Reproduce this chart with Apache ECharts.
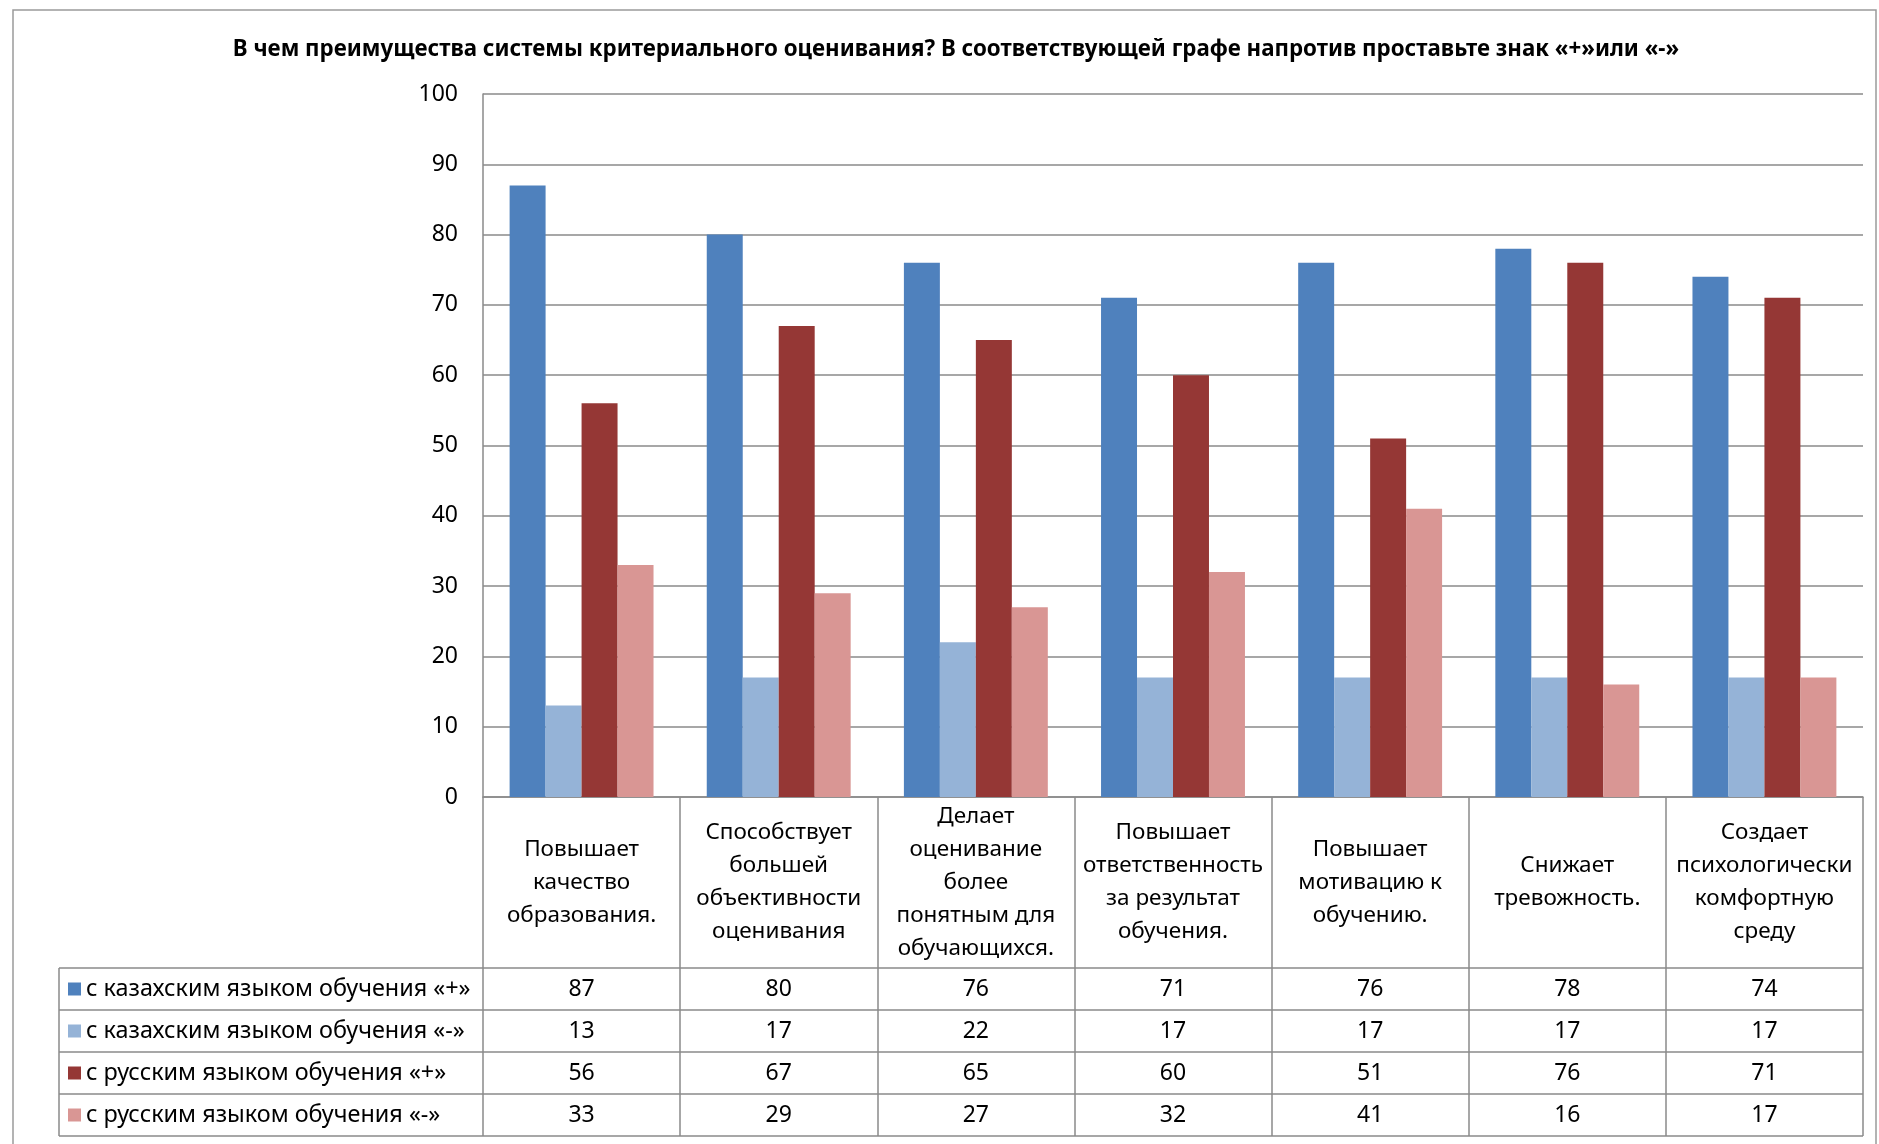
<!DOCTYPE html>
<html>
<head>
<meta charset="utf-8">
<script src="https://cdn.jsdelivr.net/npm/echarts@6/dist/echarts.min.js"></script>
<style>
html, body { margin: 0; padding: 0; background: #fff; }
#chart { width: 1879px; height: 1144px; }
</style>
</head>
<body>
<div id="chart"></div>
<script>
// data
var titleText = 'В чем преимущества системы критериального оценивания? В соответствующей графе напротив проставьте знак «+»или «-»';
var categories = [
    'Повышает\nкачество\nобразования.',
    'Способствует\nбольшей\nобъективности\nоценивания',
    'Делает\nоценивание\nболее\nпонятным для\nобучающихся.',
    'Повышает\nответственность\nза результат\nобучения.',
    'Повышает\nмотивацию к\nобучению.',
    'Снижает\nтревожность.',
    'Создает\nпсихологически\nкомфортную\nсреду'
];
var seriesNames = [
    'с казахским языком обучения «+»',
    'с казахским языком обучения «-»',
    'с русским языком обучения «+»',
    'с русским языком обучения «-»'
];
var kazPlus = [87, 80, 76, 71, 76, 78, 74];
var kazMinus = [13, 17, 22, 17, 17, 17, 17];
var rusPlus = [56, 67, 65, 60, 51, 76, 71];
var rusMinus = [33, 29, 27, 32, 41, 16, 17];
var colors = ['#4F81BD', '#95B3D7', '#953735', '#D99694'];

var rows = [kazPlus, kazMinus, rusPlus, rusMinus];

// layout
var font = 'Noto Sans';
var lineColor = '#8a8a8a';
var plotLeft = 483, plotTop = 94, plotRight = 1863, plotBottom = 797;
var headerBottom = 968, rowH = 42;
var tableLeft = 59;

window.onload = function() {
    var emChart = document.getElementById('chart');
    var chart = echarts.init(emChart);

    var rowLines = [];
    for (var r = 0; r <= rows.length; r++) {
        var y = headerBottom + r * rowH;
        rowLines.push({
            type: 'line', silent: true,
            shape: { x1: tableLeft, y1: y, x2: plotRight, y2: y },
            style: { stroke: lineColor, lineWidth: 1.5 }
        });
    }
    rowLines.push({
        type: 'line', silent: true,
        shape: { x1: tableLeft, y1: headerBottom, x2: tableLeft, y2: headerBottom + rows.length * rowH },
        style: { stroke: lineColor, lineWidth: 1.5 }
    });
    rowLines.push({
        type: 'rect', silent: true,
        shape: { x: 13, y: 10, width: 1863, height: 1300 },
        style: { fill: 'none', stroke: '#9a9a9a', lineWidth: 1.5 }
    });

    var xAxes = [{
        type: 'category',
        data: categories,
        gridIndex: 0,
        position: 'bottom',
        axisLine: { lineStyle: { color: lineColor, width: 1.5 } },
        axisTick: { show: true, length: headerBottom + rows.length * rowH - plotBottom, lineStyle: { color: lineColor, width: 1.5 } },
        axisLabel: {
            interval: 0, margin: (headerBottom - plotBottom) / 2,
            verticalAlign: 'middle', align: 'center',
            fontFamily: font, fontSize: 22.5, lineHeight: 33, color: '#000'
        },
        splitLine: { show: false }
    }];
    rows.forEach(function(vals, k) {
        xAxes.push({
            type: 'category',
            data: categories,
            gridIndex: 0,
            position: 'bottom',
            offset: headerBottom + k * rowH + rowH / 2 - plotBottom,
            axisLine: { show: false },
            axisTick: { show: false },
            axisLabel: {
                interval: 0, margin: 0, verticalAlign: 'middle',
                fontFamily: font, fontSize: 23, color: '#000',
                formatter: function(v, i) { return String(vals[i]); }
            }
        });
    });

    chart.setOption({
        animation: false,
        color: colors,
        title: {
            text: titleText,
            left: 951, top: 34, textAlign: 'center',
            textStyle: { fontFamily: font, fontSize: 22.3, fontWeight: 'bold', color: '#000' }
        },
        legend: {
            data: seriesNames,
            orient: 'vertical',
            left: 68, top: headerBottom + 7,
            padding: 0,
            icon: 'rect', itemWidth: 13, itemHeight: 13,
            itemGap: 14,
            selectedMode: false,
            textStyle: { fontFamily: font, fontSize: 23.4, lineHeight: 28, color: '#000' }
        },
        grid: {
            left: plotLeft, top: plotTop,
            width: plotRight - plotLeft, height: plotBottom - plotTop,
            containLabel: false
        },
        xAxis: xAxes,
        yAxis: {
            type: 'value', min: 0, max: 100, interval: 10,
            axisLine: { show: true, lineStyle: { color: lineColor, width: 1.5 } },
            axisTick: { show: false },
            axisLabel: { margin: 25, fontFamily: font, fontSize: 23, color: '#000' },
            splitLine: { lineStyle: { color: lineColor, width: 1.5 } }
        },
        series: rows.map(function(vals, k) {
            return {
                name: seriesNames[k], type: 'bar', data: vals,
                barGap: '0%', barCategoryGap: '27%',
                silent: true
            };
        }),
        graphic: rowLines
    });
};
</script>
</body>
</html>
